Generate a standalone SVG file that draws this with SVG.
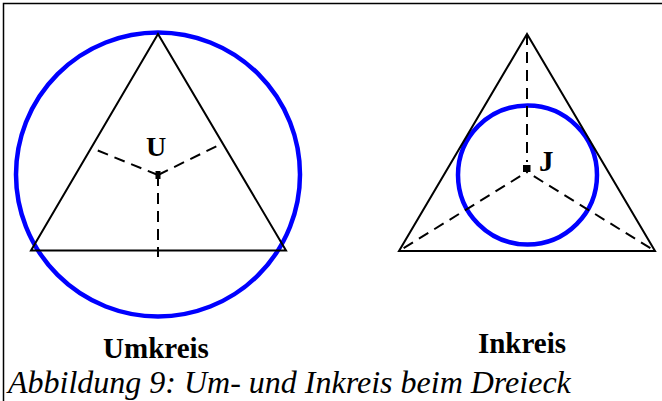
<svg xmlns="http://www.w3.org/2000/svg" width="662" height="401" viewBox="0 0 662 401">
<style>
.frame{stroke:#000;stroke-width:1.5;fill:none}
.tri{fill:none;stroke:#000;stroke-width:2}
.circ{fill:none;stroke:#0000ff;stroke-width:4.5}
.dash{stroke:#000;stroke-width:2;stroke-dasharray:11,7;fill:none}
.lbl{font-family:"Liberation Serif","Times New Roman",serif;font-weight:bold;fill:#000}
.cap{font-family:"Liberation Serif","Times New Roman",serif;font-style:italic;fill:#000;font-size:32px}
</style>
<rect width="662" height="401" fill="#fff"/>
<path class="frame" d="M3.5,401 V3.5 H662"/>
<g id="umkreis">
  <circle class="circ" cx="158" cy="174.5" r="142"/>
  <polygon class="tri" points="158,34 31,250.5 286,250.5"/>
  <g id="umkreis-connectors">
    <line class="dash" x1="158" y1="175" x2="94" y2="149"/>
    <line class="dash" x1="158" y1="175" x2="221" y2="144"/>
    <line class="dash" x1="158" y1="175" x2="158" y2="257"/>
  </g>
  <rect x="155.5" y="171" width="5" height="8" fill="#000"/>
  <text class="lbl" x="156" y="156" font-size="28" text-anchor="middle">U</text>
  <text class="lbl" x="156" y="358" font-size="29" text-anchor="middle">Umkreis</text>
</g>
<g id="inkreis">
  <circle class="circ" cx="527.5" cy="175" r="69.5"/>
  <polygon class="tri" points="527,34 399,251 655,251"/>
  <g id="inkreis-connectors">
    <line class="dash" x1="527" y1="34" x2="527" y2="162"/>
    <line class="dash" x1="527" y1="172" x2="399" y2="251" stroke-dashoffset="-8"/>
    <line class="dash" x1="527" y1="172" x2="655" y2="251" stroke-dashoffset="-8"/>
  </g>
  <rect x="523" y="165" width="7.5" height="7" fill="#000"/>
  <text class="lbl" x="539" y="171" font-size="29">J</text>
  <text class="lbl" x="522" y="353" font-size="29" text-anchor="middle">Inkreis</text>
</g>
<text class="cap" x="8" y="393">Abbildung 9: Um- und Inkreis beim Dreieck</text>
</svg>
